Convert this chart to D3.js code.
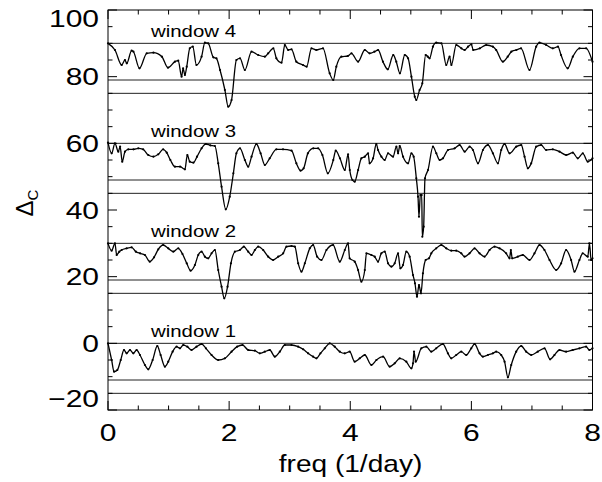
<!DOCTYPE html>
<html>
<head>
<meta charset="utf-8">
<script src="https://cdn.jsdelivr.net/npm/d3@7"></script>
<style>
  html, body { margin: 0; padding: 0; background: #fff; }
  svg { display: block; font-family: "Liberation Sans", Arial, Helvetica, sans-serif; }
</style>
</head>
<body>
<svg id="chart" width="602" height="482"></svg>
<script>
// ---------------- data ----------------
const xTicks = [0, 2, 4, 6, 8];
const yTicks = [-20, 0, 20, 40, 60, 80, 100];
const windowLabels = ["window 1", "window 2", "window 3", "window 4"];
const windowOffsets = [0, 30, 60, 90];
const refLines1 = [0, -11, -15];
const refLines2 = [30, 19, 15];
const refLines3 = [60, 49, 45];
const refLines4 = [90, 79, 75];

const w1Freq = [0,0.06,0.1,0.154,0.21,0.264,0.308,0.363,0.418,0.473,
  0.528,0.61,0.665,0.737,0.814,0.869,0.94,0.995,1.067,1.133,
  1.188,1.243,1.309,1.38,1.463,1.545,1.617,1.71,1.82,1.93,
  2.04,2.133,2.221,2.315,2.425,2.507,2.59,2.672,2.755,2.837,
  2.92,3.03,3.14,3.222,3.304,3.387,3.442,3.508,3.579,3.662,
  3.744,3.827,3.909,3.99,
  4.074,4.157,4.24,4.349,4.432,4.542,4.652,4.734,4.817,4.926,
  5.009,5.036,5.053,5.08,5.174,5.256,5.338,5.42,5.53,5.613,
  5.668,5.75,5.833,5.915,5.998,6.053,6.135,6.19,6.273,6.355,
  6.41,6.493,6.548,6.603,6.658,6.74,6.823,6.905,6.988,7.097,
  7.207,7.3,7.372,7.454,7.564,7.674,7.784,7.894,7.949,8.0];
const w1Delta = [0,-5,-8.5,-8,-5,-2,-3,-2,-3,-2,
  -3.5,-6.5,-7.8,-5,-0.8,-3.5,-7,-5.5,-2.5,-1,
  -1.5,-0.5,-1,-2,-1,-0.2,-1.5,-3.5,-5,-4.5,
  -2.5,-1,-0.5,-2,-2.2,-3,-2.5,-2,-4,-2.5,
  -0.5,-0.5,-1,-1.8,-3,-4,-4.5,-3,-1.5,0,
  -1,-2.5,-3,-2.5,
  -5.5,-4.5,-3.5,-6.5,-5,-4,-7,-6,-4.5,-5.5,
  -7.5,-6,-2.5,-5.5,-1.5,-1,-2.5,-1.5,-0.2,-3,
  -4.5,-3.5,-2.5,-3.5,-1.5,-0.2,-3,-4,-3.5,-3,
  -2.5,-3.5,-5.5,-10.2,-6.5,-2.5,-0.8,-2.5,-3.5,-2.5,
  -1.5,-4.8,-3.5,-2,-2.5,-2,-1.5,-1,-2,-1.5];

const w2Freq = [0,0.06,0.115,0.143,0.187,0.225,0.308,0.39,0.46,0.53,
  0.61,0.69,0.76,0.83,0.91,0.995,1.078,1.16,1.23,1.3,
  1.364,1.435,1.49,1.545,1.6,1.655,1.71,1.765,1.82,1.875,
  1.92,1.974,2.03,2.095,2.177,2.243,2.315,2.37,2.425,2.48,
  2.562,2.645,2.727,2.81,2.892,2.947,3.03,3.085,3.14,3.194,
  3.25,3.332,3.387,3.453,3.524,3.607,3.717,3.827,3.91,3.964,
  3.99,
  4.074,4.129,4.184,4.24,4.267,4.349,4.404,4.459,4.514,4.569,
  4.624,4.679,4.734,4.789,4.827,4.871,4.926,4.981,5.036,5.069,
  5.102,5.135,5.168,5.2,5.245,5.3,5.338,5.42,5.503,5.585,
  5.668,5.75,5.833,5.888,5.97,6.053,6.135,6.218,6.3,6.383,
  6.465,6.575,6.63,6.652,6.674,6.767,6.85,6.96,7.042,7.125,
  7.207,7.29,7.4,7.482,7.564,7.647,7.702,7.784,7.839,7.922,
  7.95,7.977,8.0];
const w2Delta = [30,27.8,30,26.5,27.5,28,28.5,28.8,27.5,27,
  26.5,24.5,25.8,28.2,29.5,28.5,27.5,28.5,26.8,24,
  21.8,23.5,26.5,27.5,26,25.5,27,28,22,17,
  13.5,17,24,27.5,28,29,27.5,26.5,28,29,
  28,26,25,26,27,29,29.2,29,24,21.5,
  24,28.5,29.5,26,25,28,29.5,24.5,28,30,
  25.5,
  24.5,22,18.5,22,27,26.5,26,24.5,27,27.5,
  24,23,24,27,22.5,23.5,27.5,26,20.5,18,
  14,17.5,15,21,25,25.5,27,28.5,29.5,28.5,
  27.8,27.8,27,26,27,28.5,27,26,28,29,
  28.5,27,25.5,28,25.5,26,26.5,25,27,29.5,
  28,25,22,24,28,25,21.5,25,27,26,
  30,25,25.5];

const w3Freq = [0,0.06,0.115,0.17,0.2,0.235,0.28,0.335,0.42,0.5,
  0.58,0.665,0.75,0.83,0.91,0.97,1.03,1.105,1.19,1.27,
  1.31,1.35,1.41,1.47,1.545,1.615,1.69,1.765,1.82,1.875,
  1.945,2.01,2.07,2.12,2.18,2.26,2.315,2.37,2.45,2.52,
  2.59,2.67,2.78,2.89,3.03,3.11,3.18,3.23,3.3,3.39,
  3.47,3.54,3.63,3.72,3.76,3.83,3.91,
  3.964,3.992,4.036,4.074,4.13,4.184,4.24,4.294,4.32,4.377,
  4.43,4.459,4.514,4.569,4.624,4.707,4.762,4.79,4.817,4.872,
  4.954,5.01,5.047,5.091,5.119,5.135,5.157,5.18,5.19,5.212,
  5.234,5.284,5.366,5.421,5.476,5.531,5.614,5.724,5.806,5.889,
  5.971,6.026,6.109,6.191,6.274,6.356,6.438,6.493,6.548,6.631,
  6.741,6.823,6.878,6.933,6.988,7.07,7.152,7.235,7.345,7.455,
  7.565,7.675,7.757,7.84,7.922,8.0];
const w3Delta = [60.2,57,60,57.5,59,54.5,57.5,58.2,58.2,58.5,
  58.2,56.5,56,56.7,58.2,57.2,55,53,53,52.2,
  56.5,54.5,54.2,56,58.5,59.8,59.4,59.2,54,47,
  40.2,44,51,57,58.5,55,53,56,59.8,57,
  53.5,55.5,58.2,58.2,57.8,54,51.8,52.5,57,58.5,
  58.5,56.5,51,55,57.8,55.5,52,
  56.7,52,49,48.5,52,55.5,56,57,54,55.5,
  59.8,58,56,55,57,56,59,57,59.2,56,
  54,57,56,49.5,44,38,44.5,44.5,32,35,
  49.5,52,59,57,55,55.5,58,58.5,59.5,57.5,
  59,58,54,58,59.5,57,54,58,59.8,57,
  59,59.5,56,52.5,54,59,59.5,58,58.2,57.5,
  56.5,57.2,55.5,57,54.5,55.5];

const w4Freq = [0,0.115,0.226,0.28,0.31,0.39,0.42,0.52,0.64,0.75,
  0.89,0.99,1.105,1.16,1.215,1.24,1.27,1.3,1.35,1.4,
  1.46,1.545,1.6,1.655,1.74,1.79,1.85,1.93,1.985,2.04,
  2.12,2.18,2.26,2.37,2.48,2.59,2.645,2.73,2.78,2.865,
  2.92,2.975,3.03,3.11,3.22,3.28,3.36,3.44,3.55,3.66,
  3.72,3.77,3.855,3.96,4.02,4.13,4.24,4.32,4.40,4.46,
  4.54,4.62,4.71,4.76,4.82,4.9,4.955,5.01,5.065,5.09,
  5.145,5.19,5.245,5.28,5.31,5.365,5.42,5.505,5.585,5.64,
  5.67,5.75,5.835,5.89,5.945,6.0,6.03,6.14,6.245,6.355,
  6.41,6.52,6.6,6.66,6.74,6.82,6.96,7.07,7.125,7.235,
  7.345,7.43,7.48,7.59,7.675,7.785,7.895,8.0];
const w4Delta = [90,88,83.5,85,84,87.8,87.5,82.5,87,87.2,
  86,82.7,84.5,84.8,80,82.5,80.5,83,88.5,89,
  83.5,86,90.2,90,85.8,85.5,82,76,71,73,
  85,85.5,82,87.5,86.5,86,87,88.5,85.5,84.2,
  89.5,88,88.2,84.5,83.5,83,88.5,88,88.5,81,
  79,83,86,86.2,87,84.5,88,87,87.5,88,
  84.5,82.2,86.5,84.5,81,86.5,85.5,80,74,73,
  76,78,86.5,86,85.5,89,90.2,90,83.5,86,
  83.5,89.5,88.5,88,89,89.7,88,88.5,89.5,89,
  88,84.5,86,87.5,88,88.5,82,89,90.2,89.5,
  88.5,89,86.5,82.5,86,88.5,88.5,84.5];

// ---------------- drawing ----------------
const svg = d3.select("#chart");
const x = d3.scaleLinear().domain([0, 8]).range([108, 592.5]);
const y = d3.scaleLinear().domain([-20, 100]).range([410, 10]);

const series = [
  {f: w1Freq, d: w1Delta, refs: refLines1},
  {f: w2Freq, d: w2Delta, refs: refLines2},
  {f: w3Freq, d: w3Delta, refs: refLines3},
  {f: w4Freq, d: w4Delta, refs: refLines4}
];

const plot = svg.append("g");

// reference lines
series.forEach(s => {
  plot.selectAll(null).data(s.refs).enter().append("line")
    .attr("x1", x(0)).attr("x2", x(8))
    .attr("y1", d => y(d)).attr("y2", d => y(d))
    .attr("stroke", "#222").attr("stroke-width", 1);
});

// traces
const line = d3.line().x(d => x(d[0])).y(d => y(d[1])).curve(d3.curveMonotoneX);
series.forEach(s => {
  const pts = s.f.map((f, i) => [f, s.d[i]]);
  plot.append("path").datum(pts)
    .attr("d", line).attr("fill", "none")
    .attr("stroke", "#000").attr("stroke-width", 1.3).attr("stroke-linejoin", "round");
  plot.selectAll(null).data(pts).enter().append("circle")
    .attr("cx", d => x(d[0])).attr("cy", d => y(d[1])).attr("r", 1.1).attr("fill", "#000");
});

// window labels
windowLabels.forEach((t, i) => {
  svg.append("text")
    .attr("transform", `translate(${x(0.71)},${y(windowOffsets[i]) - 6}) scale(1.2,1)`)
    .attr("font-size", 17).attr("fill", "#000").text(t);
});

// frame
svg.append("rect").attr("x", x(0)).attr("y", y(100))
  .attr("width", x(8) - x(0)).attr("height", y(-20) - y(100))
  .attr("fill", "none").attr("stroke", "#000").attr("stroke-width", 1);

// ticks
const major = 9, minor = 4.5;
const xMinor = d3.range(0, 8.001, 0.5).filter(v => !xTicks.includes(v));
const yMinor = d3.range(-20, 100.001, 5).filter(v => !yTicks.includes(v));
const tg = svg.append("g").attr("stroke", "#000").attr("stroke-width", 1);
function xTick(v, len) {
  tg.append("line").attr("x1", x(v)).attr("x2", x(v)).attr("y1", y(-20)).attr("y2", y(-20) - len);
  tg.append("line").attr("x1", x(v)).attr("x2", x(v)).attr("y1", y(100)).attr("y2", y(100) + len);
}
function yTick(v, len) {
  tg.append("line").attr("y1", y(v)).attr("y2", y(v)).attr("x1", x(0)).attr("x2", x(0) + len);
  tg.append("line").attr("y1", y(v)).attr("y2", y(v)).attr("x1", x(8)).attr("x2", x(8) - len);
}
xTicks.forEach(v => xTick(v, major));
xMinor.forEach(v => xTick(v, minor));
yTicks.forEach(v => yTick(v, major));
yMinor.forEach(v => yTick(v, minor));

// tick labels
const fmt = v => (v < 0 ? "\u2212" + Math.abs(v) : String(v));
xTicks.forEach(v => {
  svg.append("text")
    .attr("transform", `translate(${x(v)},440.5) scale(1.25,1)`)
    .attr("text-anchor", "middle").attr("font-size", 24).attr("fill", "#000")
    .text(fmt(v));
});
yTicks.forEach(v => {
  const cy = Math.max(18.5, Math.min(398, y(v)));
  svg.append("text")
    .attr("transform", `translate(99,${cy + 8.6}) scale(1.25,1)`)
    .attr("text-anchor", "end").attr("font-size", 24).attr("fill", "#000")
    .text(fmt(v));
});

// axis titles
svg.append("text")
  .attr("transform", "translate(350.5,472) scale(1.17,1)")
  .attr("text-anchor", "middle").attr("font-size", 24).attr("fill", "#000")
  .text("freq (1/day)");

const yt = svg.append("text")
  .attr("transform", "translate(33,203) rotate(-90)")
  .attr("text-anchor", "middle").attr("font-size", 24).attr("fill", "#000");
yt.append("tspan").text("\u0394");
yt.append("tspan").attr("font-size", 15).attr("dy", 5).text("C");
</script>
</body>
</html>
